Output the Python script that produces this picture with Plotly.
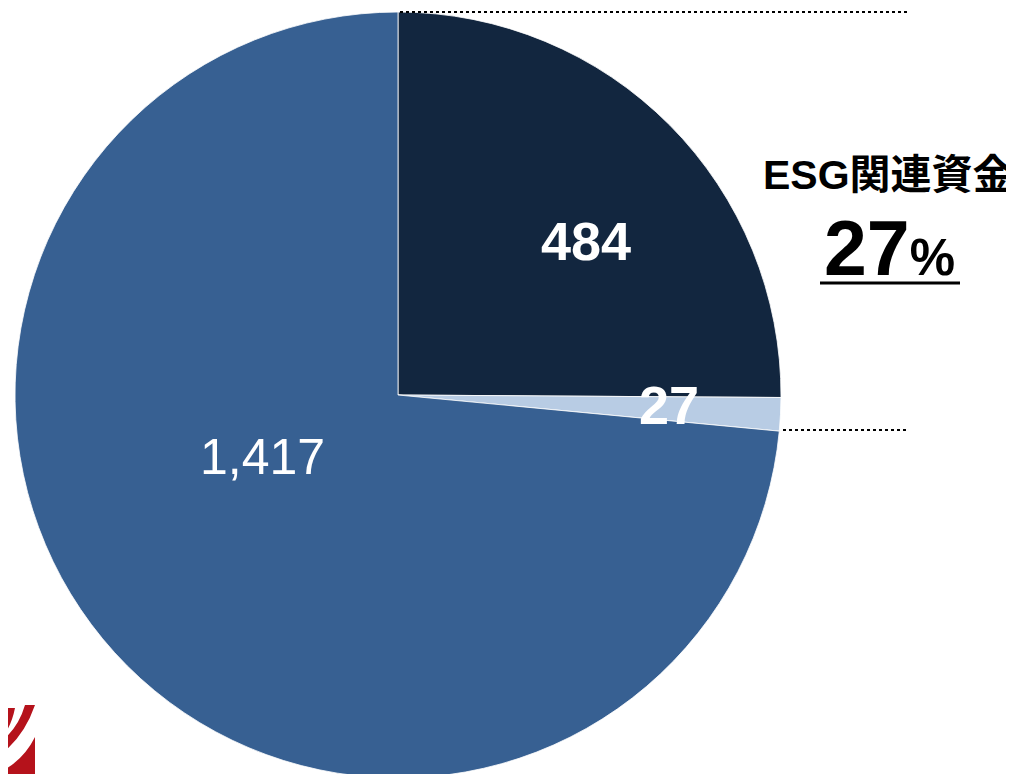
import plotly.graph_objects as go

# ---- data ----
categories = ["ESG関連資金A", "ESG関連資金B", "その他"]
values = [484, 27, 1417]
value_labels = ["484", "27", "1,417"]
colors = ["#12263F", "#B8CCE4", "#376092"]
headline_label = "ESG関連資金"
headline_pct = "27"

# page offset (body margin) compensation
OFF = 8
W, H = 1006, 774


def px(x):
    return (x - OFF) / W


def py(y):
    return 1 - (y - OFF) / H


def path(cmds):
    out = []
    for c in cmds:
        if isinstance(c, str):
            out.append(c)
        else:
            out.append(f"{px(c[0]):.5f},{py(c[1]):.5f}")
    return " ".join(out)


fig = go.Figure()
fig.add_trace(go.Pie(
    labels=categories,
    values=values,
    sort=False,
    direction="clockwise",
    rotation=0,
    marker=dict(colors=colors, line=dict(color="white", width=0.8)),
    textinfo="none",
    hoverinfo="label+value",
    showlegend=False,
    domain=dict(x=[px(15), px(781)], y=[py(778), py(12)]),
))

font_lat = "Liberation Sans, Arial, Noto Sans CJK JP"
font_jp = "Liberation Sans, Noto Sans CJK JP"

annotations = [
    dict(x=px(586), y=py(241), text=f"<b>{value_labels[0]}</b>",
         font=dict(size=54, color="white", family=font_lat)),
    dict(x=px(669), y=py(405), text=f"<b>{value_labels[1]}</b>",
         font=dict(size=54, color="white", family=font_lat)),
    dict(x=px(262), y=py(457), text=value_labels[2],
         font=dict(size=50, color="white", family=font_lat)),
    dict(x=px(888), y=py(175), text=f"<b>{headline_label}</b>",
         font=dict(size=41, color="black", family=font_jp)),
    dict(x=px(889), y=py(248),
         text=f"<b>{headline_pct}<span style='font-size:51px'>%</span></b>",
         font=dict(size=77, color="black", family=font_lat)),
]
for a in annotations:
    a.update(xref="paper", yref="paper", showarrow=False,
             xanchor="center", yanchor="middle")

shapes = [
    dict(type="line", xref="paper", yref="paper",
         x0=px(400), x1=px(908), y0=py(12), y1=py(12),
         line=dict(color="black", width=2, dash="dot")),
    dict(type="line", xref="paper", yref="paper",
         x0=px(783), x1=px(908), y0=py(430), y1=py(430),
         line=dict(color="black", width=2, dash="dot")),
    dict(type="line", xref="paper", yref="paper",
         x0=px(820), x1=px(960), y0=py(283), y1=py(283),
         line=dict(color="black", width=3)),
]
red = "#B5121B"
logo_paths = [
    ["M", (7, 708), "L", (15, 708), "Q", (11, 728), (0, 740), "L", (0, 728),
     "Q", (6, 721), (7, 708), "Z"],
    ["M", (25, 705), "L", (35, 705), "Q", (24, 737), (0, 755), "L", (0, 742),
     "Q", (18, 729), (25, 705), "Z"],
    ["M", (35, 737), "L", (35, 774), "L", (0, 774), "L", (0, 772),
     "Q", (23, 761), (35, 737), "Z"],
]
for p in logo_paths:
    shapes.append(dict(type="path", xref="paper", yref="paper", path=path(p),
                       fillcolor=red, line=dict(width=0)))

fig.update_layout(
    width=W, height=H,
    margin=dict(l=0, r=0, t=0, b=0),
    paper_bgcolor="white",
    plot_bgcolor="white",
    annotations=annotations,
    shapes=shapes,
)

fig.write_html("out.html")
